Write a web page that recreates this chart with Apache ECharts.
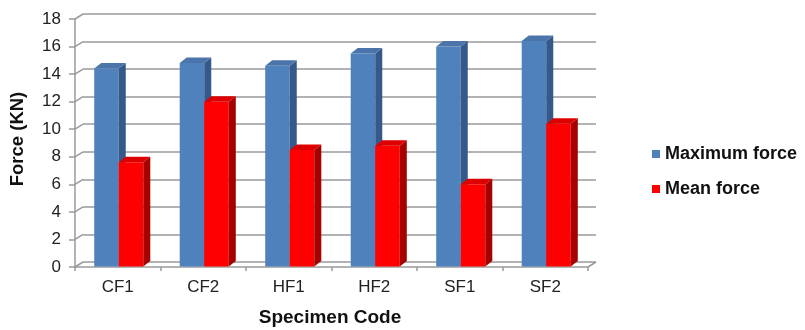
<!DOCTYPE html>
<html><head><meta charset="utf-8">
<script src="https://cdn.jsdelivr.net/npm/echarts@6/dist/echarts.min.js"></script>
<style>html,body{margin:0;padding:0;background:#fff}#c{width:805px;height:330px}</style>
</head><body><div id="c"></div>
<script>
const categories = ['CF1', 'CF2', 'HF1', 'HF2', 'SF1', 'SF2'];
const maximumForce = [14.4, 14.8, 14.6, 15.5, 16.0, 16.4];
const meanForce = [7.6, 12.0, 8.5, 8.8, 6.0, 10.4];
const yTicks = [0, 2, 4, 6, 8, 10, 12, 14, 16, 18];
const seriesNames = ['Maximum force', 'Mean force'];

const FONT = '"Liberation Sans", Arial, sans-serif';
const DX = 7, DY = -5.5;       // bar depth offset
const GDX = 8, GDY = -5;       // wall depth offset

function barRenderer(slot, front, top, side) {
  return function (params, api) {
    const idx = api.value(0), val = api.value(1);
    const p0 = api.coord([idx, 0]);
    const p1 = api.coord([idx, val]);
    const band = api.size([1, 0])[0];
    const w = band * 0.287;
    const x = p0[0] - w + slot * w + 1;
    const yb = p0[1] - 0.5, yt = p1[1];
    return {
      type: 'group',
      children: [
        { type: 'rect', shape: { x: x, y: yt, width: w, height: yb - yt }, style: { fill: front } },
        { type: 'polygon', shape: { points: [[x + w, yt], [x + w + DX, yt + DY], [x + w + DX, yb + DY], [x + w, yb]] }, style: { fill: side } },
        { type: 'polygon', shape: { points: [[x, yt], [x + DX, yt + DY], [x + w + DX, yt + DY], [x + w, yt]] }, style: { fill: top } }
      ]
    };
  };
}

function wallRenderer(params, api) {
  const v = api.value(1);
  const cs = params.coordSys;
  const y = api.coord([0, v])[1];
  const children = [{
    type: 'line',
    shape: { x1: cs.x, y1: y, x2: cs.x + GDX, y2: y + GDY },
    style: { stroke: '#9a9a9a', lineWidth: 1.5 }
  }];
  if (v === 0) {
    children.push({
      type: 'line',
      shape: { x1: cs.x + cs.width, y1: y, x2: cs.x + cs.width + GDX, y2: y + GDY },
      style: { stroke: '#9a9a9a', lineWidth: 1.5 }
    });
  }
  return { type: 'group', children: children };
}

const chart = echarts.init(document.getElementById('c'), null, { renderer: 'canvas' });
chart.setOption({
  animation: false,
  backgroundColor: '#ffffff',
  grid: [
    { left: 75, top: 19, width: 513, height: 248 },
    { left: 75 + GDX, top: 19 + GDY, width: 513, height: 248 }
  ],
  xAxis: [
    {
      type: 'category', gridIndex: 0, data: categories, boundaryGap: true,
      axisLine: { lineStyle: { color: '#9a9a9a', width: 1.5 } },
      axisTick: { show: true, length: 4, lineStyle: { color: '#9a9a9a', width: 1.5 } },
      axisLabel: { fontFamily: FONT, fontSize: 17, color: '#222222', margin: 12 }
    },
    {
      type: 'category', gridIndex: 1, data: categories, show: false
    }
  ],
  yAxis: [
    {
      type: 'value', gridIndex: 0, min: 0, max: 18, interval: 2,
      axisLine: { show: true, lineStyle: { color: '#9a9a9a', width: 1.5 } },
      axisTick: { show: true, length: 6, lineStyle: { color: '#9a9a9a', width: 1.5 } },
      axisLabel: { fontFamily: FONT, fontSize: 17, color: '#222222', margin: 14 },
      splitLine: { show: false }
    },
    {
      type: 'value', gridIndex: 1, min: 0, max: 18, interval: 2,
      axisLine: { show: false }, axisTick: { show: false }, axisLabel: { show: false },
      splitLine: { show: true, lineStyle: { color: '#9a9a9a', width: 1.5 } }
    }
  ],
  legend: {
    data: seriesNames,
    orient: 'vertical',
    left: 647, top: 140,
    itemWidth: 8, itemHeight: 8, itemGap: 17,
    icon: 'rect',
    textStyle: { fontFamily: FONT, fontSize: 18, fontWeight: 'bold', color: '#111111', lineHeight: 18 }
  },
  graphic: [
    {
      type: 'text', x: 18, y: 139, rotation: Math.PI / 2,
      style: { text: 'Force (KN)', font: 'bold 18.5px ' + FONT, fill: '#111111', textAlign: 'center', textVerticalAlign: 'middle' }
    },
    {
      type: 'text', x: 330, y: 318,
      style: { text: 'Specimen Code', font: 'bold 19px ' + FONT, fill: '#111111', textAlign: 'center', textVerticalAlign: 'middle' }
    }
  ],
  series: [
    {
      type: 'custom', name: 'walls', xAxisIndex: 0, yAxisIndex: 0,
      data: yTicks.map(v => [0, v]),
      encode: { x: 0, y: 1 },
      renderItem: wallRenderer, silent: true, z: 1
    },
    {
      type: 'custom', name: seriesNames[0], xAxisIndex: 0, yAxisIndex: 0,
      data: categories.map((c, i) => [i, maximumForce[i]]),
      encode: { x: 0, y: 1 },
      itemStyle: { color: '#4F81BD' },
      renderItem: barRenderer(0, '#4F81BD', '#4A74AA', '#34598A'), z: 3
    },
    {
      type: 'custom', name: seriesNames[1], xAxisIndex: 0, yAxisIndex: 0,
      data: categories.map((c, i) => [i, meanForce[i]]),
      encode: { x: 0, y: 1 },
      itemStyle: { color: '#FF0000' },
      renderItem: barRenderer(1, '#FF0000', '#DD0000', '#A60000'), z: 4
    }
  ]
});
</script>
</body></html>
